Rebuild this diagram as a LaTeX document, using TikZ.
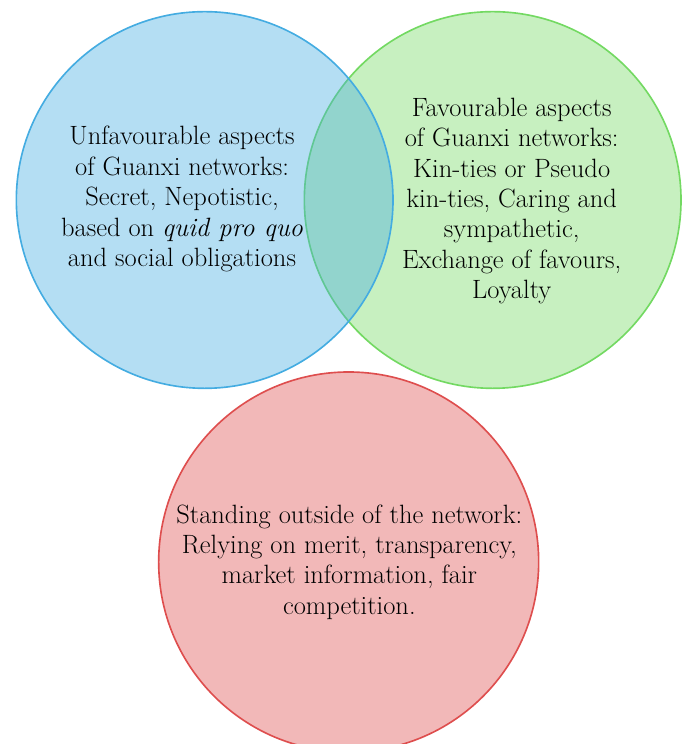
\documentclass[tikz,border=0pt]{standalone}
\usepackage{xcolor}
\usetikzlibrary{positioning}

\definecolor{gxblue}{RGB}{68,172,225}
\definecolor{gxgreen}{RGB}{115,217,98}
\definecolor{gxred}{RGB}{222,78,78}

\tikzset{
    venn/.style={circle, minimum size=11.3cm, inner sep=0pt, line width=1.4pt, fill opacity=0.4, draw opacity=1},
    venntext/.style={align=center, font=\fontsize{22.6}{26}\selectfont, text=black}
}

\begin{document}
\begin{tikzpicture}
    \useasboundingbox (0,0) rectangle (20.61,22.32);
    % Kreise
    \node[venn, draw=gxgreen, fill=gxgreen] (fav) at (14.78,16.32) {};
    \node[venn, draw=gxblue, fill=gxblue] (unfav) at (6.14,16.32) {};
    \node[venn, draw=gxred, fill=gxred, minimum size=11.4cm] (outside) at (10.46,5.46) {};
    % Texte
    \node[venntext] (unfavtext) at (5.46,16.35) {Unfavourable aspects\\of Guanxi networks:\\Secret, Nepotistic,\\based on \textit{quid pro quo}\\and social obligations};
    \node[venntext] (favtext) at (15.35,16.29) {Favourable aspects\\of Guanxi networks:\\Kin-ties or Pseudo\\kin-ties, Caring and\\sympathetic,\\Exchange of favours,\\Loyalty};
    \node[venntext] (outsidetext) at (10.48,5.46) {Standing outside of the network:\\Relying on merit, transparency,\\market information, fair\\competition.};
\end{tikzpicture}
\end{document}
